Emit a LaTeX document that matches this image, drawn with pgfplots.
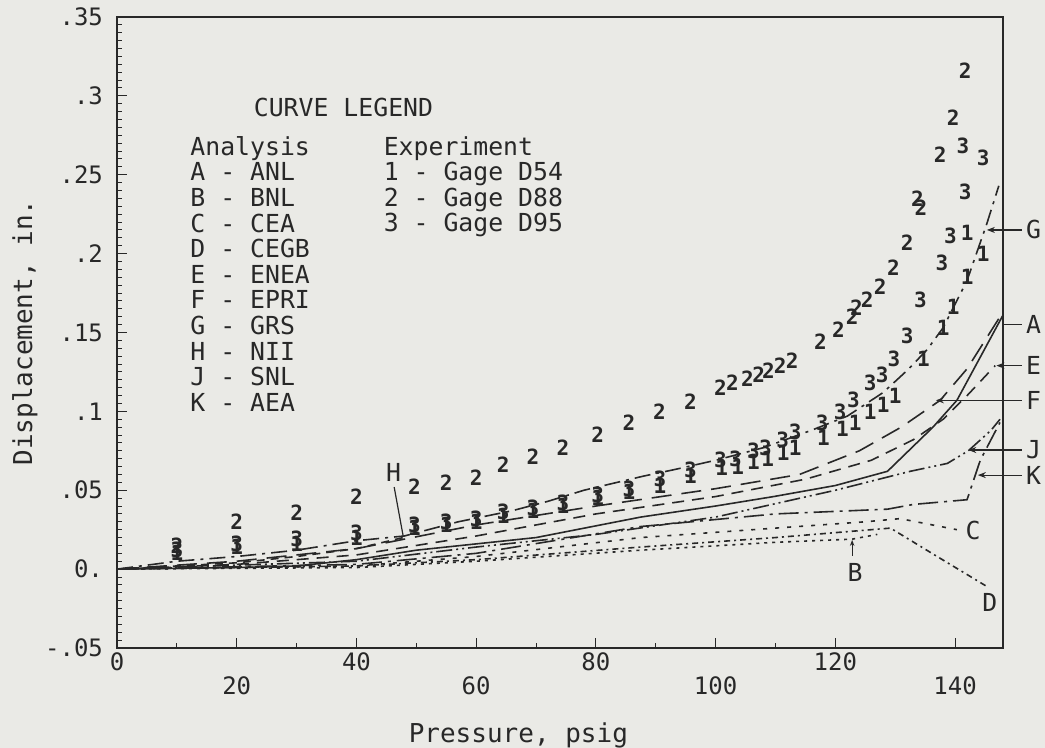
\documentclass[border=0pt]{standalone}
\usepackage{fontspec}
\setmainfont{DejaVu Sans Mono}
\usepackage{xcolor}
\usepackage{pgfplots}
\pgfplotsset{compat=1.18}
\usetikzlibrary{arrows.meta}
\definecolor{paper}{RGB}{234,234,230}
\definecolor{ink}{RGB}{40,40,40}
\pagecolor{paper}

\tikzset{
    lbl/.style={font=\fontsize{12.4}{12.4}\selectfont, text=ink, inner sep=0pt},
    lead/.style={ink, line width=0.6pt},
}
\pgfplotsset{
    digit/.style={only marks, mark=text, text mark as node=true,
        text mark style={font=\fontsize{10.5}{10.5}\selectfont\bfseries, text=ink, inner sep=0pt}},
}

% experiment: measured gage displacements
\pgfplotstableread{
x y
10 0.010
20 0.014
30 0.016
40 0.020
49.7 0.026
55 0.028
60 0.030
64.5 0.034
69.5 0.037
74.5 0.040
80.3 0.045
85.5 0.049
90.7 0.053
95.8 0.059
101 0.064
103.7 0.065
106.3 0.068
108.7 0.070
111.3 0.074
113.3 0.077
118 0.083
121.2 0.089
123.3 0.093
125.8 0.100
128 0.104
130 0.110
134.7 0.133
138 0.153
139.7 0.166
142 0.185
144.7 0.200
142 0.213
}\gageA
\pgfplotstableread{
x y
10 0.015
20 0.030
30 0.036
40 0.046
49.7 0.052
55 0.055
60 0.058
64.5 0.066
69.5 0.071
74.5 0.077
80.3 0.085
85.5 0.093
90.6 0.100
95.8 0.106
100.8 0.115
102.8 0.118
105.3 0.121
107.2 0.123
108.8 0.126
110.8 0.129
112.8 0.132
117.5 0.144
120.5 0.152
122.8 0.160
123.5 0.166
125.3 0.171
127.5 0.179
129.7 0.191
132 0.207
133.7 0.235
134.3 0.229
137.5 0.263
139.7 0.286
141.7 0.316
}\gageB
\pgfplotstableread{
x y
10 0.012
20 0.016
30 0.019
40 0.023
49.7 0.028
55 0.030
60 0.032
64.5 0.036
69.5 0.039
74.5 0.042
80.3 0.047
85.5 0.051
90.7 0.057
95.8 0.063
100.8 0.069
103.3 0.070
106.3 0.075
108.3 0.077
111.2 0.082
113.3 0.087
117.8 0.093
120.8 0.100
123 0.107
125.8 0.118
127.8 0.123
129.8 0.133
132 0.148
134.2 0.171
137.8 0.194
139.2 0.211
141.7 0.239
141.3 0.268
144.7 0.261
}\gageC

\begin{document}
\begin{tikzpicture}
\begin{axis}[
    name=ax,
    width=443pt, height=315.5pt, scale only axis,
    xmin=0, xmax=148, ymin=-0.05, ymax=0.35,
    clip=false,
    axis line style={ink, line width=0.6pt},
    tick pos=left, tick align=inside,
    xtick={0,40,80,120}, xticklabels={0,40,80,120},
    extra x ticks={20,60,100,140}, extra x tick labels={20,60,100,140},
    xticklabel style={yshift=1pt},
    extra x tick style={xticklabel style={yshift=-12pt}},
    minor x tick num=3,
    ytick={-0.05,0,0.05,0.1,0.15,0.2,0.25,0.3,0.35},
    yticklabels={-.05,0.,.05,.1,.15,.2,.25,.3,.35},
    yticklabel style={xshift=-3.5pt},
    minor y tick num=9,
    major tick length=5pt, minor tick length=2.5pt,
    tick style={ink, line width=0.5pt},
    ticklabel style={font=\fontsize{12}{12}\selectfont, text=ink},
    xlabel={Pressure, psig}, ylabel={Displacement, in.},
    label style={font=\fontsize{13}{13}\selectfont, text=ink},
    xlabel style={at={(axis description cs:0.453,-0.138)}, anchor=center},
    ylabel style={at={(axis description cs:-0.104,0.5)}, anchor=center},
    every axis plot/.append style={ink, line width=0.8pt},
]
% analysis curves
\addplot[solid] coordinates {(0,0) (20,0.001) (30,0.002) (40,0.006) (50,0.012) (60,0.016) (70,0.020) (87.5,0.033) (100,0.040) (109.7,0.046) (120,0.053) (128.7,0.062) (136.3,0.090) (140.3,0.107) (148,0.161)}; % A
\addplot[dash pattern=on 1.5pt off 2.5pt] coordinates {(0,0) (40,0.001) (60,0.005) (87.5,0.012) (110,0.017) (122.8,0.019) (127,0.022)}; % B
\addplot[dash pattern=on 2pt off 4pt] coordinates {(0,0) (40,0.002) (60,0.008) (87.5,0.020) (110,0.026) (125,0.030) (130.8,0.032) (140.3,0.025)}; % C
\addplot[dash pattern=on 3pt off 2pt on 1pt off 2pt] coordinates {(0,0) (40,0.002) (60,0.006) (87.5,0.014) (110,0.020) (129.2,0.026) (137,0.008) (145.3,-0.011)}; % D
\addplot[dash pattern=on 6pt off 4pt] coordinates {(0,0) (20,0.003) (40,0.009) (60,0.021) (80,0.035) (100,0.046) (115,0.057) (126,0.069) (133,0.082) (138,0.095) (142,0.110) (146.7,0.129)}; % E
\addplot[dash pattern=on 10pt off 5pt] coordinates {(0,0) (20,0.005) (40,0.013) (60,0.028) (80,0.040) (100,0.051) (114,0.060) (124,0.075) (131,0.090) (137.5,0.107) (142,0.127) (148,0.163)}; % F
\addplot[dash pattern=on 8pt off 3pt on 1.5pt off 3pt] coordinates {(0,0) (10,0.005) (20,0.008) (30,0.012) (40,0.018) (48,0.021) (57,0.030) (66,0.037) (72,0.043) (78,0.050) (88,0.059) (93,0.063) (100,0.069) (108,0.077) (116,0.088) (122,0.097) (128,0.112) (132,0.126) (135.3,0.139) (138,0.153) (142,0.183) (145.3,0.219) (147.3,0.243)}; % G
\addplot[dash pattern=on 4pt off 3pt] coordinates {(0,0) (10,0.002) (20,0.004) (30,0.008) (40,0.013) (47.8,0.020)}; % H
\addplot[dash pattern=on 8pt off 2pt on 1pt off 2pt on 1pt off 2pt] coordinates {(0,0) (40,0.005) (60,0.014) (80,0.022) (100,0.033) (120,0.050) (132.5,0.062) (138.7,0.067) (142.2,0.075) (146,0.088) (147.5,0.095)}; % J
\addplot[dash pattern=on 10pt off 3pt on 1.5pt off 3pt] coordinates {(0,0) (40,0.003) (60,0.010) (87.5,0.027) (110,0.035) (128.7,0.038) (133,0.041) (142,0.044) (144.2,0.069) (147.5,0.093)}; % K

% experiment points
\addplot[digit, text mark={1}] table {\gageA};
\addplot[digit, text mark={2}] table {\gageB};
\addplot[digit, text mark={3}] table {\gageC};

% curve labels
\draw[lead, {Stealth[length=4pt]}-] (axis cs:145.3,0.215) -- (axis cs:151.2,0.215);
\node[lbl, anchor=west] at (axis cs:151.8,0.215) {G};
\draw[lead] (axis cs:148,0.155) -- (axis cs:151.2,0.155);
\node[lbl, anchor=west] at (axis cs:151.8,0.155) {A};
\draw[lead, {Stealth[length=4pt]}-] (axis cs:146.9,0.129) -- (axis cs:151.2,0.129);
\node[lbl, anchor=west] at (axis cs:151.8,0.129) {E};
\draw[lead, {Stealth[length=4pt]}-] (axis cs:136.8,0.107) -- (axis cs:151.2,0.107);
\node[lbl, anchor=west] at (axis cs:151.8,0.107) {F};
\draw[lead, {Stealth[length=4pt]}-] (axis cs:142.2,0.0755) -- (axis cs:151.2,0.0755);
\node[lbl, anchor=west] at (axis cs:151.8,0.0755) {J};
\draw[lead, {Stealth[length=4pt]}-] (axis cs:143.8,0.0596) -- (axis cs:151.2,0.0596);
\node[lbl, anchor=west] at (axis cs:151.8,0.0596) {K};
\node[lbl] at (axis cs:143,0.0247) {C};
\draw[lead, {Stealth[length=3pt]}-] (axis cs:122.8,0.0185) -- (axis cs:122.8,0.008);
\node[lbl] at (axis cs:123.3,-0.002) {B};
\node[lbl] at (axis cs:145.8,-0.021) {D};
\draw[lead] (axis cs:46.3,0.052) -- (axis cs:47.8,0.021);
\node[lbl] at (axis cs:46.2,0.061) {H};

% curve legend
\node[lbl, anchor=north west] at (axis cs:22.8,0.2987) {CURVE LEGEND};
\node[lbl, anchor=north west, align=left, font=\fontsize{12.4}{12.8}\selectfont] at (axis cs:12.2,0.2746)
  {Analysis\\A - ANL\\B - BNL\\C - CEA\\D - CEGB\\E - ENEA\\F - EPRI\\G - GRS\\H - NII\\J - SNL\\K - AEA};
\node[lbl, anchor=north west, align=left, font=\fontsize{12.4}{12.8}\selectfont] at (axis cs:44.5,0.2746)
  {Experiment\\1 - Gage D54\\2 - Gage D88\\3 - Gage D95};
\end{axis}
\pgfresetboundingbox
\path[use as bounding box] ([xshift=-58.5pt,yshift=-50pt]ax.south west) rectangle ([xshift=21pt,yshift=8.5pt]ax.north east);
\end{tikzpicture}
\end{document}
